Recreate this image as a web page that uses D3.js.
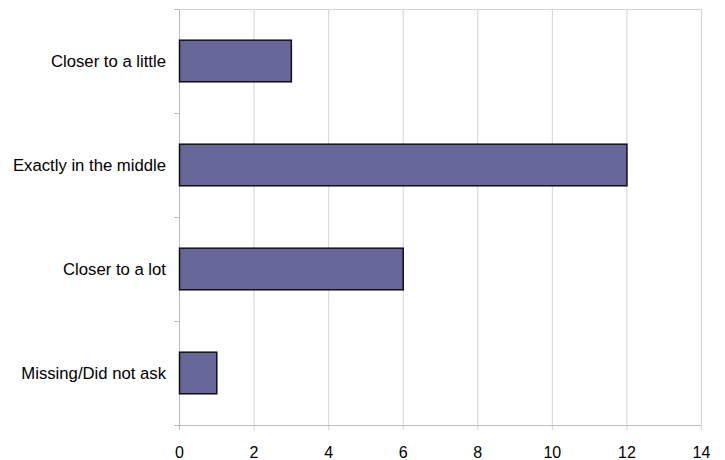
<!DOCTYPE html>
<html><head><meta charset="utf-8">
<script src="https://cdn.jsdelivr.net/npm/d3@7"></script>
<style>body{margin:0;background:#fff}svg{display:block}</style>
</head><body><svg id="c" width="725" height="460"></svg>
<script>
const categories = ["Closer to a little","Exactly in the middle","Closer to a lot","Missing/Did not ask"];
const values = [3,12,6,1];
const xTicks = [0,2,4,6,8,10,12,14];

const svg = d3.select("#c");
const m = {left:179, top:9, right:24, bottom:35};
const W = 725 - m.left - m.right, H = 460 - m.top - m.bottom;
const g = svg.append("g").attr("transform",`translate(${m.left},${m.top})`);
const x = d3.scaleLinear().domain([0,14]).range([0,W]);
const y = d3.scaleBand().domain(categories).range([0,H]).paddingInner(0.6).paddingOuter(0.3);
const font = "'Liberation Sans', Arial, sans-serif";

// gridlines
g.selectAll(".grid").data(xTicks).enter().append("line")
  .attr("x1",d=>x(d)+0.5).attr("x2",d=>x(d)+0.5).attr("y1",0).attr("y2",H+5)
  .attr("stroke","#d4d4d4").attr("stroke-width",1);
g.append("line").attr("x1",0).attr("x2",W).attr("y1",0.5).attr("y2",0.5).attr("stroke","#d4d4d4");

// y boundary ticks
const bounds = d3.range(categories.length+1).map(i=>i*H/categories.length);
g.selectAll(".yt").data(bounds).enter().append("line")
  .attr("x1",-5).attr("x2",0).attr("y1",d=>Math.round(d)+0.5).attr("y2",d=>Math.round(d)+0.5)
  .attr("stroke","#bdbdbd");
// axes lines
g.append("line").attr("x1",0.5).attr("x2",0.5).attr("y1",0).attr("y2",H+5).attr("stroke","#bdbdbd");
g.append("line").attr("x1",0).attr("x2",W).attr("y1",H+0.5).attr("y2",H+0.5).attr("stroke","#bdbdbd");

// bars
g.selectAll(".bar").data(values).enter().append("rect")
  .attr("x",0.5).attr("y",(d,i)=>y(categories[i]))
  .attr("width",d=>x(d)).attr("height",y.bandwidth())
  .attr("fill","#666699").attr("stroke","#111").attr("stroke-width",1.5);

// x tick labels
g.selectAll(".xl").data(xTicks).enter().append("text")
  .attr("x",d=>x(d)+0.5).attr("y",H+33).attr("text-anchor","middle")
  .attr("font-family",font).attr("font-size",16).attr("fill","#000").text(d=>d);

// category labels
g.selectAll(".cl").data(categories).enter().append("text")
  .attr("x",-13).attr("y",d=>y(d)+y.bandwidth()/2).attr("dy","0.36em").attr("text-anchor","end")
  .attr("font-family",font).attr("font-size",16.7).attr("fill","#000").text(d=>d);
</script></body></html>
